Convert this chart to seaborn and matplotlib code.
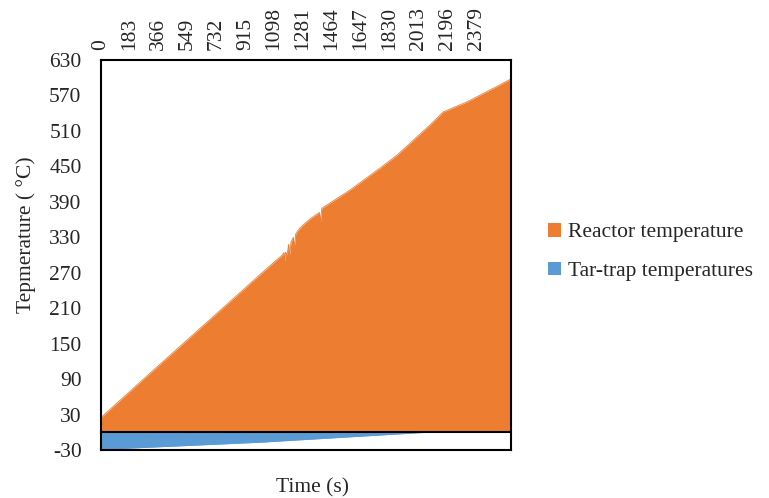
import numpy as np
import pandas as pd
import matplotlib
matplotlib.use("Agg")
import matplotlib.pyplot as plt
import seaborn as sns
from matplotlib.patches import Patch

# ---- data ----
reactor_time = [0, 311, 1072, 1150, 1160, 1165, 1170, 1180, 1190, 1196, 1205, 1220, 1226,
                1235, 1260, 1282, 1330, 1385, 1392, 1400, 1452, 1579, 1769, 1877, 2086,
                2169, 2320, 2530, 2600]
reactor_temp = [25, 100, 282, 300, 304, 289, 305, 300, 318, 300, 322, 330, 312,
                336, 345, 351, 362, 372, 356, 379, 388, 410, 447, 469, 520,
                542, 559, 588, 598]
trap_time = [0, 500, 1000, 1500, 2065, 2600]
trap_temp = [-29, -23, -17, -9, 0, 0]

x_ticks = [0, 183, 366, 549, 732, 915, 1098, 1281, 1464, 1647, 1830, 2013, 2196, 2379]
y_ticks = [-30, 30, 90, 150, 210, 270, 330, 390, 450, 510, 570, 630]

ORANGE = "#ED7D31"
BLUE = "#5B9BD5"
FS = 15.5

sns.set_theme(style="white")
plt.rcParams["font.family"] = ["Liberation Serif", "DejaVu Serif"]

fig = plt.figure(figsize=(7.69, 4.98), dpi=100)
ax = fig.add_axes([101 / 769, 1 - 450 / 498, 410 / 769, 390 / 498])

df_r = pd.DataFrame({"t": reactor_time, "T": reactor_temp})
df_b = pd.DataFrame({"t": trap_time, "T": trap_temp})

sns.lineplot(data=df_r, x="t", y="T", ax=ax, color=ORANGE, linewidth=0.6)
sns.lineplot(data=df_b, x="t", y="T", ax=ax, color=BLUE, linewidth=0.6)
ax.fill_between(df_r["t"], 0, df_r["T"], color=ORANGE, linewidth=0)
ax.fill_between(df_b["t"], 0, df_b["T"], color=BLUE, linewidth=0)

ax.axhline(0, color="black", linewidth=1.5, zorder=5)

ax.set_xlim(0, 2600)
ax.set_ylim(-30, 630)
ax.set_yticks(y_ticks)
ax.set_yticklabels([str(v) for v in y_ticks], fontsize=FS)
ax.set_xticks(x_ticks)
ax.set_xticklabels([str(v) for v in x_ticks], rotation=90, fontsize=FS)
ax.xaxis.tick_top()
ax.tick_params(axis="x", length=0, pad=7)
ax.tick_params(axis="y", length=0, pad=14)

for s in ax.spines.values():
    s.set_visible(True)
    s.set_color("black")
    s.set_linewidth(1.5)

ax.set_xlabel("")
ax.set_ylabel("Tepmerature ( °C)", fontsize=FS)
ax.yaxis.set_label_coords(-0.158, 0.553)
fig.text(313 / 769, 1 - 488 / 498, "Time (s)", ha="center", va="center", fontsize=FS)

handles = [Patch(facecolor=ORANGE, edgecolor="none", label="Reactor temperature"),
           Patch(facecolor=BLUE, edgecolor="none", label="Tar-trap temperatures")]
fig.legend(handles=handles, loc="center left", bbox_to_anchor=(529 / 769, 1 - 252 / 498),
           frameon=False, fontsize=FS, handlelength=0.6, handleheight=0.6,
           handletextpad=0.3, labelspacing=0.9)

fig.savefig("out.png", dpi=100)
